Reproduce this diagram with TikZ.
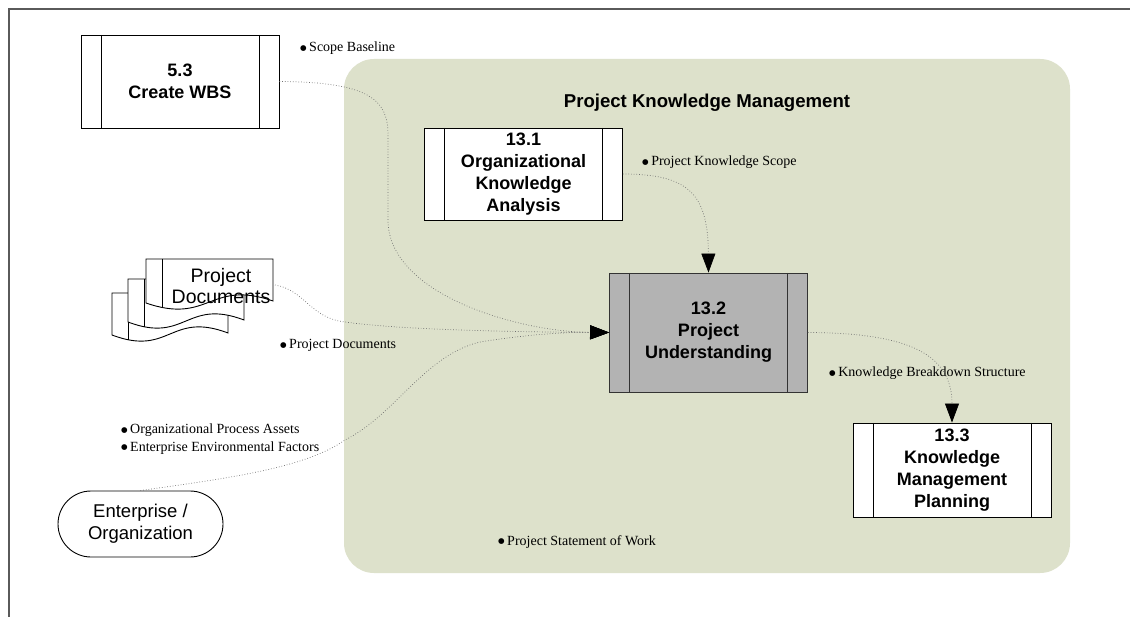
\documentclass[tikz,border=0pt]{standalone}
\usepackage{fontspec}
\setmainfont{Liberation Serif}
\newfontfamily\arialf{Liberation Sans}
\newfontfamily\dejavuf{DejaVu Sans}
\usetikzlibrary{arrows.meta}
\definecolor{pkmgreen}{RGB}{221,225,203}
\definecolor{procgray}{RGB}{179,179,179}
\definecolor{linegray}{RGB}{110,110,110}
\definecolor{framegray}{RGB}{90,90,90}
\def\docp#1#2#3#4{(#1,#2) -- ({#1+#3},#2) -- ({#1+#3},{#2+#4-2}) .. controls ({#1+0.5*#3},{#2+#4-24}) and ({#1+0.5*#3},{#2+#4+22}) .. (#1,{#2+#4}) -- cycle}
\newcommand\docsheet[4]{%
  \fill[white] \docp{#1}{#2}{#3}{#4};
  \begin{scope}
    \clip \docp{#1}{#2}{#3}{#4};
    \draw[line width=0.9pt] ({#1+16},#2) -- ({#1+16},{#2+#4+30});
  \end{scope}
  \draw[line width=0.9pt] \docp{#1}{#2}{#3}{#4};}
\newcommand\blt{\raisebox{1.8pt}{\dejavuf\fontsize{7.5}{8}\selectfont ●}\hspace{2.5pt}}
\begin{document}
\begin{tikzpicture}[x=1pt,y=-1pt,
  procbox/.style={draw=black, line width=0.9pt, fill=white, minimum width=198pt, inner sep=0pt, align=center,
    font=\arialf\bfseries\fontsize{18}{22}\selectfont,
    path picture={\draw[line width=0.9pt] ([xshift=20pt]path picture bounding box.north west) -- ([xshift=20pt]path picture bounding box.south west);
      \draw[line width=0.9pt] ([xshift=-20pt]path picture bounding box.north east) -- ([xshift=-20pt]path picture bounding box.south east);}},
  lbl/.style={anchor=base west, inner sep=0pt, font=\fontsize{14}{16}\selectfont},
  flow/.style={draw=linegray, dotted, line width=0.7pt},
  tip/.style={-{Triangle[length=19pt,width=14pt,color=black]}},
  ]
\useasboundingbox (0,0) rectangle (1130,617);
\fill[white] (0,0) rectangle (1130,617);
% frame
\draw[framegray, line width=1.5pt] (1130,9) -- (9,9) -- (9,617);
% group background
\fill[pkmgreen, rounded corners=30pt] (344,59) rectangle (1070,573);
\node[font=\arialf\bfseries\fontsize{18.6}{22}\selectfont, anchor=base, inner sep=0pt] (title) at (707,108) {Project Knowledge Management};

% stacked documents
\docsheet{112}{293}{116}{42}
\docsheet{128}{279}{116}{43}
\docsheet{146}{259}{127}{44}
\node[font=\arialf\fontsize{19.5}{21}\selectfont, align=center, inner sep=0pt] (docs) at (221,286) {Project\\Documents};
\coordinate (docsout) at (275,285);

% process boxes
\node[procbox, minimum height=93pt] (wbs) at (180,81.5) {5.3\\Create WBS};
\node[procbox, minimum height=92pt] (a) at (523.5,174) {13.1\\Organizational\\Knowledge\\Analysis};
\node[procbox, minimum height=119pt, fill=procgray, draw=black!80] (u) at (708.5,332.5) {13.2\\Project\\Understanding};
\node[procbox, minimum height=94pt] (c) at (952,470) {13.3\\Knowledge\\Management\\Planning};

% enterprise
\node[draw, line width=0.9pt, fill=white, rounded corners=33pt, minimum width=165pt, minimum height=66pt, inner sep=0pt, align=center,
  font=\arialf\fontsize{18.5}{22}\selectfont] (ent) at (140.5,524) {Enterprise /\\Organization};

% connectors
\draw[flow,tip] (wbs.east) .. controls (370,82) and (388,100) .. (388,135) -- (388,220) .. controls (388,295) and (520,332) .. (u.west);
\draw[flow,tip] (docsout) .. controls (305,290) and (310,318) .. (345,322) .. controls (400,330) and (520,332) .. (u.west);
\draw[flow,tip] (ent.north) .. controls (230,478) and (305,468) .. (345,440) .. controls (395,415) and (425,355) .. (480,342) .. controls (530,334) and (570,332) .. (u.west);
\draw[flow,tip] (a.east) .. controls (690,174) and (708,195) .. (u.north);
\draw[flow,tip] (u.east) .. controls (900,333) and (952,350) .. (c.north);

% labels
\node[lbl] (l1) at (300,52) {\blt Scope Baseline};
\node[lbl] (l2) at (642,166) {\blt Project Knowledge Scope};
\node[lbl] (l3) at (280,349) {\blt Project Documents};
\node[lbl] (l4) at (121,434) {\blt Organizational Process Assets};
\node[lbl] (l5) at (121,451) {\blt Enterprise Environmental Factors};
\node[lbl] (l6) at (829,377) {\blt Knowledge Breakdown Structure};
\node[lbl] (l7) at (498,545) {\blt Project Statement of Work};
\end{tikzpicture}
\end{document}
